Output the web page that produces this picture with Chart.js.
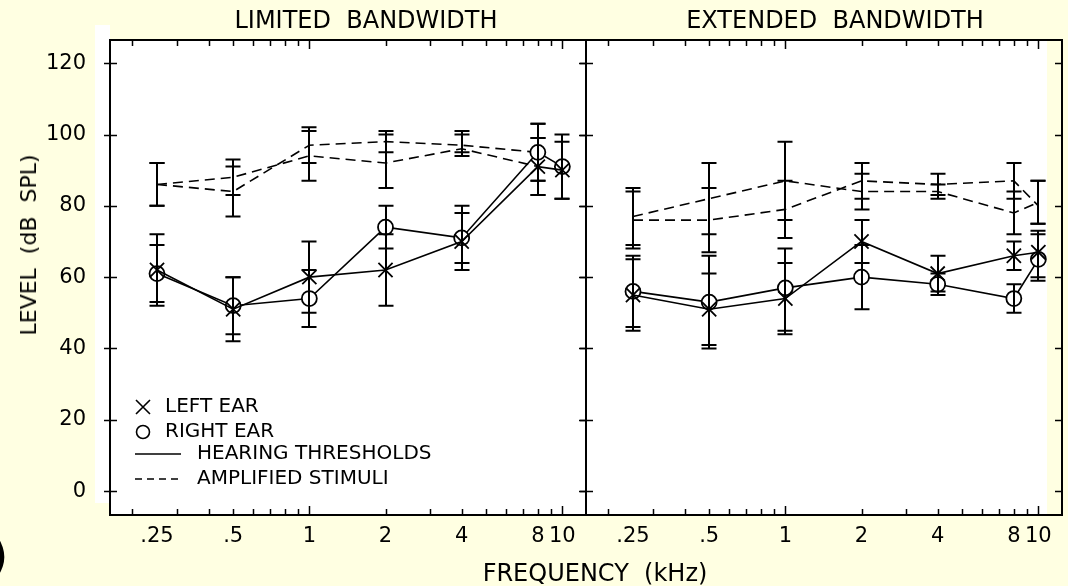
<!DOCTYPE html>
<html>
<head>
<meta charset="utf-8">
<script src="https://cdn.jsdelivr.net/npm/chart.js@4.4.1/dist/chart.umd.min.js"></script>
<style>
  html, body { margin: 0; padding: 0; }
  body {
    width: 1068px; height: 586px; position: relative; overflow: hidden;
    background: #ffffe2; color: #000;
    font-family: 'DejaVu Sans', sans-serif;
  }
  .wrap { position: absolute; top: 0; height: 586px; }
  #wrapLeft { left: 0; width: 600px; }
  #wrapRight { left: 580px; width: 488px; }
  .lbl { position: absolute; white-space: pre; transform: translate(-50%, -50%); line-height: 1; }
</style>
</head>
<body>
<div class="wrap" id="wrapLeft"><canvas id="left" width="600" height="586"></canvas></div>
<div class="wrap" id="wrapRight"><canvas id="right" width="488" height="586"></canvas></div>

<div class="lbl" style="left:366px; top:20px; font-size:24px;">LIMITED  BANDWIDTH</div>
<div class="lbl" style="left:835px; top:20px; font-size:24px;">EXTENDED  BANDWIDTH</div>
<div class="lbl" style="left:595px; top:573px; font-size:24px;">FREQUENCY  (kHz)</div>
<div class="lbl" style="left:29px; top:245px; font-size:22px; transform: translate(-50%, -50%) rotate(-90deg);">LEVEL  (dB  SPL)</div>
<div class="lbl" style="left:-2px; top:556px; font-size:44px; font-weight:bold;">)</div>

<script>
// frequencies (kHz)
const freqs = [0.25, 0.5, 1, 2, 4, 8, 10];
const ampFreqsLimited = [0.25, 0.5, 1, 2, 4, 8];

// x axis labels and inward tick marks
const xTickVals = [0.25, 0.5, 1, 2, 4, 8, 10];
const xTickLabels = ['.25', '.5', '1', '2', '4', '8', '10'];
const minorTicks = [0.2, 0.3, 0.4, 0.5, 0.6, 0.7, 0.8, 0.9, 1, 2, 3, 4, 5, 6, 7, 8, 9, 10];
const majorTicks = [1, 10];
const yTickVals = [0, 20, 40, 60, 80, 100, 120];

// LIMITED BANDWIDTH - hearing thresholds
const limLeftThr = [62, 51, 60, 62, 70, 91, 90];
const limLeftThrLo = [52, 42, 50, 52, 62, 83, 82];
const limLeftThrHi = [72, 60, 70, 72, 78, 99, 98];
const limRightThr = [61, 52, 54, 74, 71, 95, 91];
const limRightThrLo = [53, 44, 46, 68, 64, 87, 82];
const limRightThrHi = [69, 60, 62, 80, 80, 103, 100];
// LIMITED BANDWIDTH - amplified stimuli
const limAmpA = [86, 88, 94, 92, 96, 91];
const limAmpALo = [80, 83, 87, 85, 94, 83];
const limAmpAHi = [92, 93, 101, 100, 100, 99];
const limAmpB = [86, 84, 97, 98, 97, 95];
const limAmpBLo = [80, 77, 92, 95, 95, 87];
const limAmpBHi = [92, 91, 102, 101, 101, 103];

// EXTENDED BANDWIDTH - hearing thresholds
const extLeftThr = [55, 51, 54, 70, 61, 66, 67];
const extLeftThrLo = [45, 40, 44, 64, 56, 62, 60];
const extLeftThrHi = [65, 61, 64, 76, 66, 70, 73];
const extRightThr = [56, 53, 57, 60, 58, 54, 65];
const extRightThrLo = [46, 41, 45, 51, 55, 50, 59];
const extRightThrHi = [66, 66, 68, 69, 61, 58, 72];
// EXTENDED BANDWIDTH - amplified stimuli
const extAmpA = [77, 82, 87, 84, 84, 78, 81];
const extAmpALo = [69, 72, 76, 79, 82, 72, 75];
const extAmpAHi = [85, 92, 98, 89, 86, 84, 87];
const extAmpB = [76, 76, 79, 87, 86, 87, 80];
const extAmpBLo = [68, 67, 71, 82, 83, 82, 75];
const extAmpBHi = [84, 85, 87, 92, 89, 92, 87];

const FONT = "'DejaVu Sans', sans-serif";

function pts(xs, ys) {
  return xs.map((f, i) => ({ x: f, y: ys[i] }));
}

function crossSet(xs, ys, lo, hi) {
  return {
    data: pts(xs, ys), errLow: lo, errHigh: hi,
    borderColor: '#000', borderWidth: 1.6,
    pointStyle: 'crossRot', pointRadius: 10, pointBorderWidth: 1.8,
    pointBorderColor: '#000', pointBackgroundColor: '#000'
  };
}
function circleSet(xs, ys, lo, hi) {
  return {
    data: pts(xs, ys), errLow: lo, errHigh: hi,
    borderColor: '#000', borderWidth: 1.6,
    pointStyle: 'circle', pointRadius: 7.5, pointBorderWidth: 1.8,
    pointBorderColor: '#000', pointBackgroundColor: '#fff'
  };
}
function dashSet(xs, ys, lo, hi) {
  return {
    data: pts(xs, ys), errLow: lo, errHigh: hi,
    borderColor: '#000', borderWidth: 1.6, borderDash: [10, 6],
    pointRadius: 0
  };
}

// white plot area, frame and inward ticks
const frameTicks = {
  id: 'frameTicks',
  beforeDraw(chart, args, opts) {
    const { ctx, chartArea: a } = chart;
    ctx.save();
    ctx.fillStyle = '#fff';
    ctx.fillRect(a.left, a.top, a.right - a.left - (opts.strip || 0), a.bottom - a.top);
    if (opts.leftWhite) ctx.fillRect(a.left - 15, a.top - 15, 15, a.bottom - a.top + 3);
    ctx.restore();
  },
  afterDraw(chart, args, opts) {
    const { ctx, chartArea: a, scales: { x, y } } = chart;
    ctx.save();
    ctx.strokeStyle = '#000';
    ctx.lineWidth = 2;
    ctx.strokeRect(a.left, a.top, a.right - a.left, a.bottom - a.top);
    ctx.lineWidth = 1.5;
    ctx.beginPath();
    minorTicks.forEach(v => {
      const px = Math.round(x.getPixelForValue(v)) + 0.5;
      const len = majorTicks.includes(v) ? 9 : 6;
      ctx.moveTo(px, a.top); ctx.lineTo(px, a.top + len);
      ctx.moveTo(px, a.bottom); ctx.lineTo(px, a.bottom - len);
    });
    yTickVals.forEach(v => {
      const py = Math.round(y.getPixelForValue(v)) + 0.5;
      ctx.moveTo(a.left - opts.outLeft, py); ctx.lineTo(a.left + 7, py);
      ctx.moveTo(a.right - 7, py); ctx.lineTo(a.right + opts.outRight, py);
    });
    ctx.stroke();
    ctx.restore();
  }
};

// vertical error bars with caps
const errorBars = {
  id: 'errorBars',
  afterDatasetsDraw(chart) {
    const { ctx, scales: { x, y } } = chart;
    ctx.save();
    ctx.strokeStyle = '#000';
    ctx.lineWidth = 2;
    chart.data.datasets.forEach(ds => {
      if (!ds.errLow) return;
      ds.data.forEach((p, i) => {
        const px = Math.round(x.getPixelForValue(p.x));
        const lo = y.getPixelForValue(ds.errLow[i]);
        const hi = y.getPixelForValue(ds.errHigh[i]);
        ctx.beginPath();
        ctx.moveTo(px, lo); ctx.lineTo(px, hi);
        ctx.moveTo(px - 7.5, lo); ctx.lineTo(px + 7.5, lo);
        ctx.moveTo(px - 7.5, hi); ctx.lineTo(px + 7.5, hi);
        ctx.stroke();
      });
    });
    ctx.restore();
  }
};

// key in the lower left of the first panel
const keyBox = {
  id: 'keyBox',
  afterDraw(chart) {
    const { ctx, chartArea: a } = chart;
    const x0 = a.left + 25;
    const rows = [a.bottom - 108, a.bottom - 83, a.bottom - 61, a.bottom - 36];
    ctx.save();
    ctx.font = '20px ' + FONT;
    ctx.textBaseline = 'middle';
    ctx.fillStyle = '#000';
    ctx.strokeStyle = '#000';
    ctx.lineWidth = 1.6;
    ctx.beginPath();
    ctx.moveTo(x0 + 1, rows[0] - 7); ctx.lineTo(x0 + 15, rows[0] + 7);
    ctx.moveTo(x0 + 15, rows[0] - 7); ctx.lineTo(x0 + 1, rows[0] + 7);
    ctx.stroke();
    ctx.fillText('LEFT EAR', x0 + 30, rows[0]);
    ctx.beginPath();
    ctx.arc(x0 + 8, rows[1], 6.5, 0, Math.PI * 2);
    ctx.stroke();
    ctx.fillText('RIGHT EAR', x0 + 30, rows[1]);
    ctx.beginPath();
    ctx.moveTo(x0, rows[2]); ctx.lineTo(x0 + 46, rows[2]);
    ctx.stroke();
    ctx.fillText('HEARING THRESHOLDS', x0 + 62, rows[2]);
    ctx.setLineDash([7, 5]);
    ctx.beginPath();
    ctx.moveTo(x0, rows[3]); ctx.lineTo(x0 + 46, rows[3]);
    ctx.stroke();
    ctx.setLineDash([]);
    ctx.fillText('AMPLIFIED STIMULI', x0 + 62, rows[3]);
    ctx.restore();
  }
};

function makeScales(showY) {
  return {
    x: {
      type: 'logarithmic', min: 0.163, max: 12.4,
      afterBuildTicks: s => { s.ticks = xTickVals.map(v => ({ value: v })); },
      afterFit: s => { s.height = 71; },
      grid: { display: false, drawTicks: false },
      border: { display: false },
      ticks: {
        autoSkip: false, maxRotation: 0, minRotation: 0, padding: 9,
        color: '#000', font: { family: FONT, size: 21 },
        callback: (v, i) => xTickLabels[i]
      }
    },
    y: {
      type: 'linear', min: -6.7, max: 126.5, display: showY,
      afterBuildTicks: s => { s.ticks = yTickVals.map(v => ({ value: v })); },
      afterFit: s => { s.width = showY ? 110 : 0; },
      grid: { display: false, drawTicks: false },
      border: { display: false },
      ticks: { padding: 24, color: '#000', font: { family: FONT, size: 21 } }
    }
  };
}

const common = {
  responsive: false,
  animation: false,
  events: [],
  elements: { line: { tension: 0, fill: false } },
};

new Chart(document.getElementById('left'), {
  type: 'line',
  data: {
    datasets: [
      crossSet(freqs, limLeftThr, limLeftThrLo, limLeftThrHi),
      circleSet(freqs, limRightThr, limRightThrLo, limRightThrHi),
      dashSet(ampFreqsLimited, limAmpA, limAmpALo, limAmpAHi),
      dashSet(ampFreqsLimited, limAmpB, limAmpBLo, limAmpBHi)
    ]
  },
  options: {
    ...common,
    layout: { autoPadding: false, padding: { left: 0, right: 14, top: 40, bottom: 0 } },
    scales: makeScales(true),
    plugins: {
      legend: { display: false }, tooltip: { enabled: false },
      frameTicks: { outLeft: 6, outRight: 7, strip: 0, leftWhite: true }
    }
  },
  plugins: [frameTicks, errorBars, keyBox]
});

new Chart(document.getElementById('right'), {
  type: 'line',
  data: {
    datasets: [
      crossSet(freqs, extLeftThr, extLeftThrLo, extLeftThrHi),
      circleSet(freqs, extRightThr, extRightThrLo, extRightThrHi),
      dashSet(freqs, extAmpA, extAmpALo, extAmpAHi),
      dashSet(freqs, extAmpB, extAmpBLo, extAmpBHi)
    ]
  },
  options: {
    ...common,
    layout: { autoPadding: false, padding: { left: 6, right: 6, top: 40, bottom: 0 } },
    scales: makeScales(false),
    plugins: {
      legend: { display: false }, tooltip: { enabled: false },
      frameTicks: { outLeft: 7, outRight: 0, strip: 15, leftWhite: false }
    }
  },
  plugins: [frameTicks, errorBars]
});
</script>
</body>
</html>
